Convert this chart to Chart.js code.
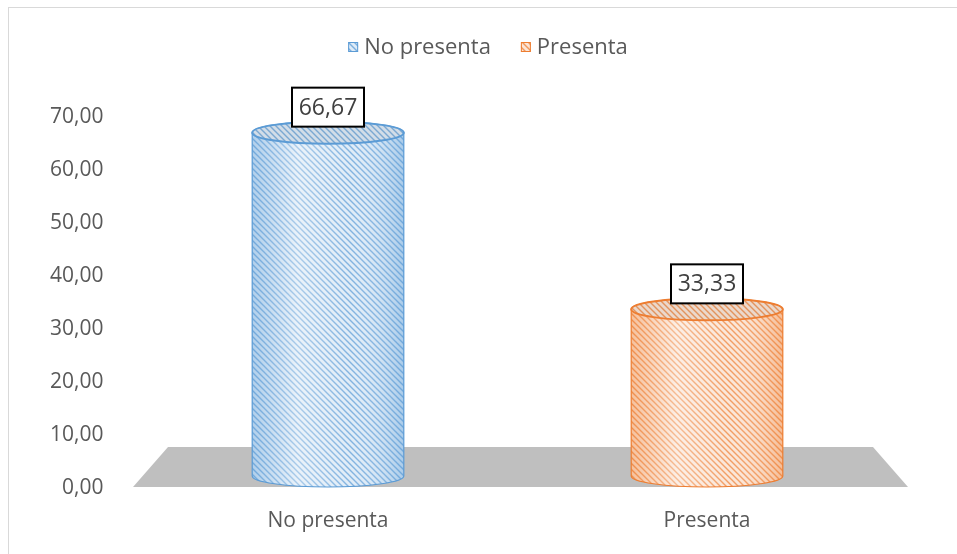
<!DOCTYPE html>
<html>
<head>
<meta charset="utf-8">
<script src="https://cdn.jsdelivr.net/npm/chart.js@4"></script>
<style>
  html, body { margin: 0; padding: 0; background: #fff; }
  #wrap { width: 957px; height: 554px; position: relative; }
</style>
</head>
<body>
<div id="wrap"><canvas id="chart" width="957" height="554"></canvas></div>
<script>
// Chart data
const categories = ["No presenta", "Presenta"];
const seriesNames = ["No presenta", "Presenta"];
const noPresentaValues = [66.67, null];
const presentaValues = [null, 33.33];
const yMin = 0;
const yMax = 70;
const yStep = 10;

const FONT = "'Open Sans', 'Noto Sans', sans-serif";
const TEXT = "#595959";

// series colours: [line colour, light background]
const seriesColors = [
  ["#5b9bd5", "#deebf7"],
  ["#ed7d31", "#fbe5d6"]
];

const fmt = v => v.toFixed(2).replace(".", ",");

// diagonal hatch pattern like Excel's "wide downward diagonal"
function makePattern(line, bg) {
  const c = document.createElement("canvas");
  c.width = 6; c.height = 6;
  const p = c.getContext("2d");
  p.fillStyle = bg;
  p.fillRect(0, 0, 6, 6);
  p.strokeStyle = line;
  p.globalAlpha = 0.75;
  p.lineWidth = 1.4;
  p.beginPath();
  p.moveTo(-1, -1); p.lineTo(7, 7);
  p.moveTo(-7, -1); p.lineTo(1, 7);
  p.moveTo(5, -1); p.lineTo(13, 7);
  p.stroke();
  return p.createPattern(c, "repeat");
}

function hexA(hex, a) {
  const n = parseInt(hex.slice(1), 16);
  return `rgba(${n >> 16},${(n >> 8) & 255},${n & 255},${a})`;
}

const ctx0 = document.getElementById("chart").getContext("2d");
const patterns = seriesColors.map(c => makePattern(c[0], c[1]));

// floor, cylinders, value boxes, legend and border
const cylinderPlugin = {
  id: "cylinders",
  beforeDatasetsDraw(chart) {
    const { ctx, chartArea: a } = chart;
    ctx.save();
    ctx.fillStyle = "#bfbfbf";
    ctx.beginPath();
    ctx.moveTo(a.left + 29.5, a.bottom - 41);
    ctx.lineTo(a.right - 23.5, a.bottom - 41);
    ctx.lineTo(a.right + 11.5, a.bottom - 1);
    ctx.lineTo(a.left - 5.5, a.bottom - 1);
    ctx.closePath();
    ctx.fill();
    ctx.restore();
  },
  afterDatasetsDraw(chart) {
    const { ctx } = chart;
    chart.data.datasets.forEach((ds, di) => {
      const meta = chart.getDatasetMeta(di);
      const [line] = seriesColors[di];
      meta.data.forEach((bar, i) => {
        if (ds.data[i] == null) return;
        const cx = bar.x, rx = bar.width / 2, ry = 11;
        const topY = bar.y - 2, botY = bar.base - 12;
        ctx.save();
        // body
        ctx.beginPath();
        ctx.moveTo(cx - rx, topY);
        ctx.lineTo(cx - rx, botY);
        ctx.ellipse(cx, botY, rx, ry, 0, Math.PI, 0, true);
        ctx.lineTo(cx + rx, topY);
        ctx.ellipse(cx, topY, rx, ry, 0, 0, Math.PI, true);
        ctx.closePath();
        ctx.fillStyle = patterns[di];
        ctx.fill();
        const g = ctx.createLinearGradient(cx - rx, 0, cx + rx, 0);
        g.addColorStop(0, hexA(line, 0.35));
        g.addColorStop(0.3, "rgba(255,255,255,0.35)");
        g.addColorStop(0.65, "rgba(255,255,255,0.05)");
        g.addColorStop(1, hexA(line, 0.4));
        ctx.fillStyle = g;
        ctx.fill();
        ctx.strokeStyle = line;
        ctx.lineWidth = 1.2;
        ctx.stroke();
        // top cap
        ctx.beginPath();
        ctx.ellipse(cx, topY, rx, ry, 0, 0, Math.PI * 2);
        ctx.fillStyle = patterns[di];
        ctx.fill();
        ctx.fillStyle = "rgba(120,120,120,0.12)";
        ctx.fill();
        ctx.strokeStyle = line;
        ctx.lineWidth = 2;
        ctx.stroke();
        ctx.restore();

        // value label box
        const w = 72, h = 39;
        const bx = cx - w / 2, by = bar.y - 8 - h;
        ctx.save();
        ctx.fillStyle = "#fff";
        ctx.fillRect(bx, by, w, h);
        ctx.strokeStyle = "#000";
        ctx.lineWidth = 2;
        ctx.strokeRect(bx, by, w, h);
        ctx.fillStyle = "#404040";
        ctx.font = `23px ${FONT}`;
        ctx.textAlign = "center";
        ctx.textBaseline = "middle";
        ctx.fillText(fmt(ds.data[i]), cx, by + h / 2 + 1);
        ctx.restore();
      });
    });
  },
  afterDraw(chart) {
    const { ctx } = chart;
    ctx.save();
    // outer chart border (only top/left visible in the crop)
    ctx.strokeStyle = "#d9d9d9";
    ctx.lineWidth = 1;
    ctx.strokeRect(8.5, 7.5, chart.width + 10, chart.height + 10);

    // legend
    ctx.font = `22px ${FONT}`;
    ctx.textBaseline = "middle";
    const box = 10, gap = 6, spacing = 30;
    const widths = seriesNames.map(n => box + gap + ctx.measureText(n).width);
    const total = widths.reduce((s, v) => s + v, 0) + spacing * (widths.length - 1);
    let x = 488 - total / 2;
    const y = 47;
    seriesNames.forEach((name, i) => {
      ctx.fillStyle = patterns[i];
      ctx.fillRect(x, y - box / 2, box, box);
      ctx.strokeStyle = seriesColors[i][0];
      ctx.lineWidth = 1;
      ctx.strokeRect(x + 0.5, y - box / 2 + 0.5, box - 1, box - 1);
      ctx.fillStyle = TEXT;
      ctx.textAlign = "left";
      ctx.fillText(name, x + box + gap, y + 1);
      x += widths[i] + spacing;
    });
    ctx.restore();
  }
};

new Chart(ctx0, {
  type: "bar",
  data: {
    labels: categories,
    datasets: [
      {
        label: seriesNames[0],
        data: noPresentaValues,
        backgroundColor: "rgba(0,0,0,0)",
        borderWidth: 0
      },
      {
        label: seriesNames[1],
        data: presentaValues,
        backgroundColor: "rgba(0,0,0,0)",
        borderWidth: 0
      }
    ]
  },
  options: {
    responsive: false,
    animation: false,
    events: [],
    layout: { padding: { top: 117, left: 10, right: 60.5, bottom: 6 } },
    datasets: { bar: { grouped: false, categoryPercentage: 1, barPercentage: 0.4 } },
    scales: {
      x: {
        grid: { display: false, drawTicks: false },
        border: { display: false },
        ticks: { color: TEXT, font: { family: FONT, size: 21 }, padding: 20 },
        afterFit: s => { s.height = 60; }
      },
      y: {
        min: yMin,
        max: yMax,
        grid: { display: false, drawTicks: false },
        border: { display: false },
        ticks: {
          stepSize: yStep,
          color: TEXT,
          font: { family: FONT, size: 21 },
          padding: 35,
          callback: v => fmt(v)
        },
        afterFit: s => { s.width = 128.5; }
      }
    },
    plugins: {
      legend: { display: false },
      tooltip: { enabled: false }
    }
  },
  plugins: [cylinderPlugin]
});
</script>
</body>
</html>
